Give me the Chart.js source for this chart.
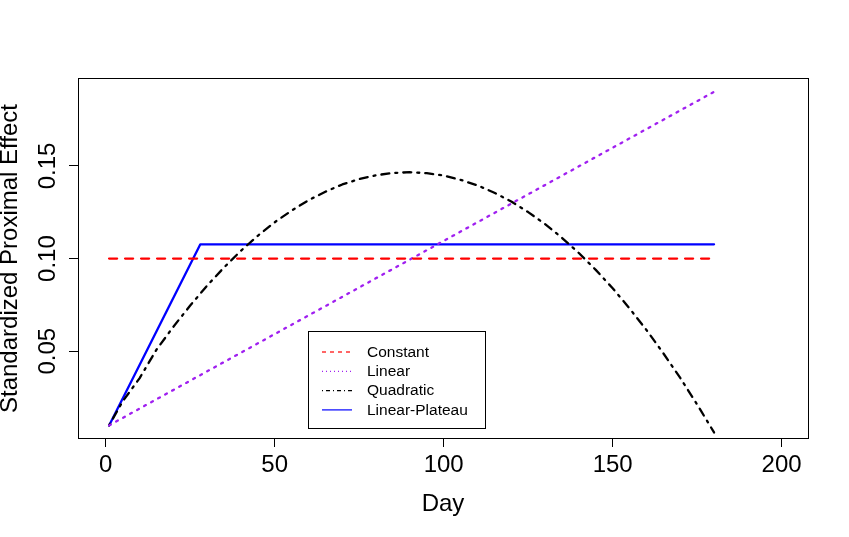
<!DOCTYPE html>
<html><head><meta charset="utf-8">
<script src="https://cdn.jsdelivr.net/npm/chart.js@4.4.1/dist/chart.umd.min.js"></script>
<style>html,body{margin:0;padding:0;background:#fff}#wrap{width:849px;height:537px}</style>
</head><body><div id="wrap"><canvas id="c" width="849" height="537"></canvas></div>
<script>
// ---- data ----
const constDays = [1, 180];
const constVals = [0.10, 0.10];
const linDays = [1, 180];
const linVals = [0.010, 0.190];
const quadDays = [1,5,10,15,20,25,30,35,40,45,50,55,60,65,70,75,80,85,90,95,100,105,110,115,120,125,130,135,140,145,150,155,160,165,170,175,180];
const quadVals = [0.0100,0.0229,0.0354,0.0508,0.0632,0.0747,0.0854,0.0952,0.1042,0.1123,0.1196,0.1259,0.1315,0.1361,0.1400,0.1429,0.1450,0.1462,0.1466,0.1461,0.1448,0.1425,0.1395,0.1355,0.1308,0.1251,0.1186,0.1112,0.1030,0.0939,0.0840,0.0731,0.0615,0.0489,0.0356,0.0213,0.0062];
const platDays = [1, 28, 180];
const platVals = [0.010, 0.1077, 0.1077];
const xTicks = [0, 50, 100, 150, 200];
const yTicks = [0.05, 0.10, 0.15];
const yTickLabels = ['0.05', '0.10', '0.15'];
const seriesNames = ['Constant', 'Linear', 'Quadratic', 'Linear-Plateau'];
const seriesColors = ['#FF0000', '#A020F0', '#000000', '#0000FF'];
const xTitle = 'Day';
const yTitle = 'Standardized Proximal Effect';

const FONT = '"Liberation Sans", Arial, Helvetica, sans-serif';
const pts = (xs, ys) => xs.map((x, i) => ({x: x, y: ys[i]}));

const plotDash = [[8, 8], [2, 6], [2, 6, 8, 6], []];
const legendDash = [[4, 4], [1, 3], [1, 3, 4, 3], []];

const overlay = {
  id: 'overlay',
  afterDraw(chart) {
    const ctx = chart.ctx, a = chart.chartArea;
    ctx.save();
    // plot box
    ctx.strokeStyle = '#000'; ctx.lineWidth = 1; ctx.setLineDash([]);
    ctx.strokeRect(Math.round(a.left) + 0.5, Math.round(a.top) - 0.5, Math.round(a.right) - Math.round(a.left), Math.round(a.bottom) - Math.round(a.top) + 1);
    // y tick labels (parallel to axis, as in R)
    const ys = chart.scales.y;
    ctx.fillStyle = '#000';
    ctx.font = '24px ' + FONT;
    ctx.textAlign = 'center'; ctx.textBaseline = 'alphabetic';
    yTicks.forEach((v, i) => {
      const py = ys.getPixelForValue(v);
      ctx.save(); ctx.translate(55, py); ctx.rotate(-Math.PI / 2);
      ctx.fillText(yTickLabels[i], 0, 0); ctx.restore();
    });
    // legend
    const L = 308.5, T = 331.5, W = 177, H = 97;
    ctx.fillStyle = '#fff'; ctx.fillRect(L, T, W, H);
    ctx.strokeStyle = '#000'; ctx.lineWidth = 1; ctx.strokeRect(L, T, W, H);
    ctx.font = '15.5px ' + FONT; ctx.textAlign = 'left'; ctx.textBaseline = 'middle';
    seriesNames.forEach((name, i) => {
      const y = T + 20.5 + i * 19.3;
      ctx.strokeStyle = seriesColors[i]; ctx.lineWidth = 1.2; ctx.setLineDash(legendDash[i]);
      ctx.beginPath(); ctx.moveTo(322, y); ctx.lineTo(352, y); ctx.stroke();
      ctx.setLineDash([]);
      ctx.fillStyle = '#000'; ctx.fillText(name, 367, y + 0.5);
    });
    ctx.restore();
  }
};

const mk = (label, data, i) => ({
  label: label, data: data, borderColor: seriesColors[i], backgroundColor: seriesColors[i],
  borderWidth: 2.3, borderDash: plotDash[i], borderCapStyle: 'round', borderJoinStyle: 'round',
  pointRadius: 0, tension: 0, fill: false
});

new Chart(document.getElementById('c'), {
  type: 'line',
  data: { datasets: [
    mk(seriesNames[0], pts(constDays, constVals), 0),
    mk(seriesNames[1], pts(linDays, linVals), 1),
    mk(seriesNames[2], pts(quadDays, quadVals), 2),
    mk(seriesNames[3], pts(platDays, platVals), 3)
  ]},
  options: {
    responsive: false, animation: false, devicePixelRatio: 1,
    layout: { padding: { top: 79, right: 41, left: 0, bottom: 0 } },
    plugins: { legend: { display: false }, tooltip: { enabled: false } },
    scales: {
      x: {
        type: 'linear', min: -8.2, max: 207.8,
        afterBuildTicks: s => { s.ticks = xTicks.map(v => ({value: v})); },
        afterFit: s => { s.height = 537 - 438; },
        grid: { drawOnChartArea: false, drawTicks: true, tickLength: 9, color: '#000', lineWidth: 1 },
        border: { display: false },
        ticks: { autoSkip: false, maxRotation: 0, color: '#000', padding: 6.5,
                 font: { family: FONT, size: 24, lineHeight: 1 }, callback: v => String(v) },
        title: { display: true, text: xTitle, color: '#000',
                 font: { family: FONT, size: 24, lineHeight: 1 }, padding: { top: 0, bottom: 20.3 } }
      },
      y: {
        type: 'linear', min: 0.0032, max: 0.1969,
        afterBuildTicks: s => { s.ticks = yTicks.map(v => ({value: v})); },
        afterFit: s => { s.width = 78; },
        grid: { drawOnChartArea: false, drawTicks: true, tickLength: 9, color: '#000', lineWidth: 1 },
        border: { display: false },
        ticks: { display: false },
        title: { display: true, text: yTitle, color: '#000',
                 font: { family: FONT, size: 24, lineHeight: 1 }, padding: { top: -2, bottom: 0 } }
      }
    }
  },
  plugins: [overlay]
});
</script></body></html>
